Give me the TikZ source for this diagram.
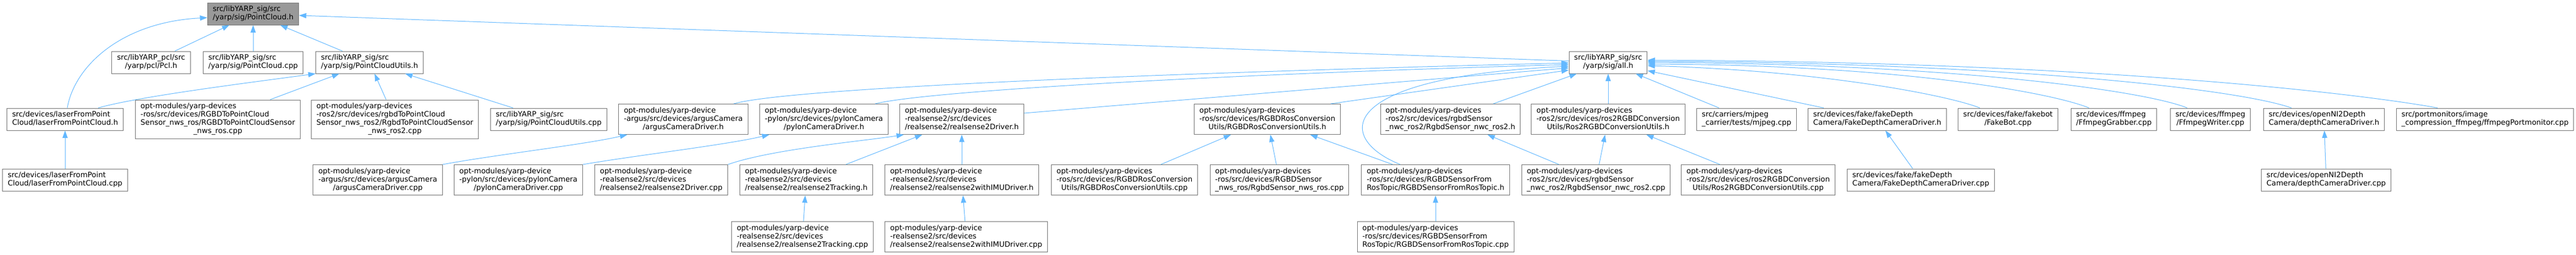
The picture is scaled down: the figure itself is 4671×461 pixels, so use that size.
\documentclass[tikz,border=0pt]{standalone}
\usepackage{fontspec}
\setmainfont{DejaVu Sans}
\usetikzlibrary{arrows.meta,calc}
\definecolor{myblue}{rgb}{0.38824,0.72157,1.00000}
\definecolor{mygray}{rgb}{0.60000,0.60000,0.60000}
\definecolor{myline}{rgb}{0.45000,0.45000,0.45000}
\newcommand{\lbl}[2]{\begin{tabular}{@{}l@{}}#1\\\multicolumn{1}{@{}c@{}}{#2}\end{tabular}}
\tikzset{
  file/.style={draw=myline, line width=0.75pt, fill=white, inner xsep=7pt, inner ysep=3.75pt, font=\fontsize{10}{11.25}\selectfont},
  rootfile/.style={file, fill=mygray},
  incl/.style={myblue, line width=0.75pt, -{Triangle[length=10pt,width=7pt]}}
}
\begin{document}
\begin{tikzpicture}[x=0.75pt,y=-0.75pt]
\useasboundingbox (0,0) rectangle (4671,461);

\node [rootfile] (pch) at (459,25) {\lbl{src/libYARP\_sig/src}{/yarp/sig/PointCloud.h}};
\node [file] (pcl) at (274,113) {\lbl{src/libYARP\_pcl/src}{/yarp/pcl/Pcl.h}};
\node [file] (pccpp) at (459,113) {\lbl{src/libYARP\_sig/src}{/yarp/sig/PointCloud.cpp}};
\node [file] (pcuh) at (670,113) {\lbl{src/libYARP\_sig/src}{/yarp/sig/PointCloudUtils.h}};
\node [file] (allh) at (2916,113) {\lbl{src/libYARP\_sig/src}{/yarp/sig/all.h}};

\node [file] (laserh) at (118,216) {\lbl{src/devices/laserFromPoint}{Cloud/laserFromPointCloud.h}};
\node [file] (tocloudros) at (395,216) {\lbl{opt-modules/yarp-devices\\-ros/src/devices/RGBDToPointCloud\\Sensor\_nws\_ros/RGBDToPointCloudSensor}{\_nws\_ros.cpp}};
\node [file] (tocloudros2) at (716,216) {\lbl{opt-modules/yarp-devices\\-ros2/src/devices/rgbdToPointCloud\\Sensor\_nws\_ros2/RgbdToPointCloudSensor}{\_nws\_ros2.cpp}};
\node [file] (pcucpp) at (995,216) {\lbl{src/libYARP\_sig/src}{/yarp/sig/PointCloudUtils.cpp}};
\node [file] (argush) at (1239,216) {\lbl{opt-modules/yarp-device\\-argus/src/devices/argusCamera}{/argusCameraDriver.h}};
\node [file] (pylonh) at (1494,216) {\lbl{opt-modules/yarp-device\\-pylon/src/devices/pylonCamera}{/pylonCameraDriver.h}};
\node [file] (rsh) at (1744,216) {\lbl{opt-modules/yarp-device\\-realsense2/src/devices}{/realsense2/realsense2Driver.h}};
\node [file] (rosconvh) at (2298,216) {\lbl{opt-modules/yarp-devices\\-ros/src/devices/RGBDRosConversion}{Utils/RGBDRosConversionUtils.h}};
\node [file] (nwch) at (2630,216) {\lbl{opt-modules/yarp-devices\\-ros2/src/devices/rgbdSensor}{\_nwc\_ros2/RgbdSensor\_nwc\_ros2.h}};
\node [file] (rostwoconvh) at (2916,216) {\lbl{opt-modules/yarp-devices\\-ros2/src/devices/ros2RGBDConversion}{Utils/Ros2RGBDConversionUtils.h}};
\node [file] (mjpeg) at (3167,216) {\lbl{src/carriers/mjpeg}{\_carrier/tests/mjpeg.cpp}};
\node [file] (fakeh) at (3404,216) {\lbl{src/devices/fake/fakeDepth}{Camera/FakeDepthCameraDriver.h}};
\node [file] (fakebot) at (3641,216) {\lbl{src/devices/fake/fakebot}{/FakeBot.cpp}};
\node [file] (grabber) at (3833,216) {\lbl{src/devices/ffmpeg}{/FfmpegGrabber.cpp}};
\node [file] (writer) at (4008,216) {\lbl{src/devices/ffmpeg}{/FfmpegWriter.cpp}};
\node [file] (depthh) at (4214,216) {\lbl{src/devices/openNI2Depth}{Camera/depthCameraDriver.h}};
\node [file] (portmon) at (4506,216) {\lbl{src/portmonitors/image}{\_compression\_ffmpeg/ffmpegPortmonitor.cpp}};

\node [file] (lasercpp) at (118,326) {\lbl{src/devices/laserFromPoint}{Cloud/laserFromPointCloud.cpp}};
\node [file] (arguscpp) at (685,326) {\lbl{opt-modules/yarp-device\\-argus/src/devices/argusCamera}{/argusCameraDriver.cpp}};
\node [file] (pyloncpp) at (940,326) {\lbl{opt-modules/yarp-device\\-pylon/src/devices/pylonCamera}{/pylonCameraDriver.cpp}};
\node [file] (rscpp) at (1199,326) {\lbl{opt-modules/yarp-device\\-realsense2/src/devices}{/realsense2/realsense2Driver.cpp}};
\node [file] (trackh) at (1462,326) {\lbl{opt-modules/yarp-device\\-realsense2/src/devices}{/realsense2/realsense2Tracking.h}};
\node [file] (imuh) at (1744,326) {\lbl{opt-modules/yarp-device\\-realsense2/src/devices}{/realsense2/realsense2withIMUDriver.h}};
\node [file] (rosconvcpp) at (2039,326) {\lbl{opt-modules/yarp-devices\\-ros/src/devices/RGBDRosConversion}{Utils/RGBDRosConversionUtils.cpp}};
\node [file] (nwscpp) at (2320,326) {\lbl{opt-modules/yarp-devices\\-ros/src/devices/RGBDSensor}{\_nws\_ros/RgbdSensor\_nws\_ros.cpp}};
\node [file] (topich) at (2603,326) {\lbl{opt-modules/yarp-devices\\-ros/src/devices/RGBDSensorFrom}{RosTopic/RGBDSensorFromRosTopic.h}};
\node [file] (nwccpp) at (2894,326) {\lbl{opt-modules/yarp-devices\\-ros2/src/devices/rgbdSensor}{\_nwc\_ros2/RgbdSensor\_nwc\_ros2.cpp}};
\node [file] (rostwoconvcpp) at (3188,326) {\lbl{opt-modules/yarp-devices\\-ros2/src/devices/ros2RGBDConversion}{Utils/Ros2RGBDConversionUtils.cpp}};
\node [file] (fakecpp) at (3483,326) {\lbl{src/devices/fake/fakeDepth}{Camera/FakeDepthCameraDriver.cpp}};
\node [file] (depthcpp) at (4218,326) {\lbl{src/devices/openNI2Depth}{Camera/depthCameraDriver.cpp}};

\node [file] (trackcpp) at (1455,429) {\lbl{opt-modules/yarp-device\\-realsense2/src/devices}{/realsense2/realsense2Tracking.cpp}};
\node [file] (imucpp) at (1752,429) {\lbl{opt-modules/yarp-device\\-realsense2/src/devices}{/realsense2/realsense2withIMUDriver.cpp}};
\node [file] (topiccpp) at (2603,429) {\lbl{opt-modules/yarp-devices\\-ros/src/devices/RGBDSensorFrom}{RosTopic/RGBDSensorFromRosTopic.cpp}};

\draw [incl] (pcl) -- (pch);
\draw [incl] (pccpp) -- (pch);
\draw [incl] (pcuh) -- (pch);
\draw [incl] (allh) -- (pch);
\draw [incl] ($(laserh.north)+(4,0)$) .. controls (135,120) and (220,40) .. ($(pch.west)+(0,7)$);
\draw [incl] ($(laserh.north)+(60,0)$) .. controls (250,175) and (450,150) .. (pcuh.south west);
\draw [incl] (lasercpp) -- (laserh);
\draw [incl] (tocloudros) -- (pcuh);
\draw [incl] (tocloudros2) -- (pcuh);
\draw [incl] (pcucpp) -- (pcuh);

\draw [incl] ($(argush.north east)+(-26,0)$) .. controls (1420,162) and (2000,135) .. ($(allh.west)+(0,1)$);
\draw [incl] ($(pylonh.north east)+(-24,0)$) .. controls (1680,165) and (2200,135) .. ($(allh.west)+(0,4)$);
\draw [incl] ($(rsh.east)+(0,-11)$) -- ($(allh.west)+(0,10)$);
\draw [incl] ($(rosconvh.north east)+(-18,0)$) -- ($(allh.west)+(0,14)$);
\draw [incl] ($(topich.north)+(-64,0)$) .. controls (2420,250) and (2420,140) .. ($(allh.west)+(0,7)$);
\draw [incl] (nwch) -- (allh);
\draw [incl] (rostwoconvh) -- (allh);
\draw [incl] (mjpeg) -- (allh);
\draw [incl] (fakeh) -- (allh);
\draw [incl] ($(fakebot.north)+(-51,0)$) .. controls (3530,172) and (3300,128) .. ($(allh.east)+(0,6)$);
\draw [incl] ($(grabber.north)+(-45,0)$) .. controls (3720,168) and (3450,118) .. ($(allh.east)+(0,3)$);
\draw [incl] ($(writer.north)+(-42,0)$) .. controls (3890,165) and (3550,116) .. (allh.east);
\draw [incl] ($(depthh.north)+(-59,0)$) .. controls (4060,162) and (3650,114) .. ($(allh.east)+(0,-2)$);
\draw [incl] ($(portmon.north)+(-86,0)$) .. controls (4280,170) and (3800,112) .. ($(allh.east)+(0,-4)$);

\draw [incl] (arguscpp.north east) .. controls (900,280) and (1060,262) .. ($(argush.south west)+(16,0)$);
\draw [incl] (pyloncpp.north east) .. controls (1150,282) and (1320,262) .. ($(pylonh.south west)+(18,0)$);
\draw [incl] (rscpp.north east) .. controls (1400,270) and (1570,255) .. ($(rsh.south west)+(8,0)$);
\draw [incl] (trackh) -- (rsh);
\draw [incl] (imuh) -- (rsh);
\draw [incl] (trackcpp) -- (trackh);
\draw [incl] (imucpp) -- (imuh);
\draw [incl] (rosconvcpp) -- (rosconvh);
\draw [incl] (nwscpp) -- (rosconvh);
\draw [incl] (topich) -- (rosconvh);
\draw [incl] (topiccpp) -- (topich);
\draw [incl] (nwccpp) -- (nwch);
\draw [incl] (nwccpp) -- (rostwoconvh);
\draw [incl] (rostwoconvcpp) -- (rostwoconvh);
\draw [incl] (fakecpp) -- (fakeh);
\draw [incl] (depthcpp) -- (depthh);
\end{tikzpicture}
\end{document}
